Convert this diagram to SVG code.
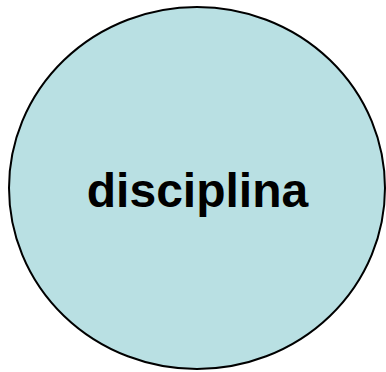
<svg xmlns="http://www.w3.org/2000/svg" width="386" height="372" viewBox="0 0 386 372">
<style>
.node{fill:#b9e0e3;stroke:#000;stroke-width:2}
.lbl{font-family:"Liberation Sans",Arial,sans-serif;font-weight:bold;font-size:48px;fill:#000;text-anchor:middle}
</style>
<rect width="386" height="372" fill="#fff"/>
<g id="connectors"></g>
<g id="disciplina">
<ellipse class="node" cx="197" cy="188" rx="188" ry="181"/>
<text class="lbl" x="197.5" y="207">disciplina</text>
</g>
</svg>
